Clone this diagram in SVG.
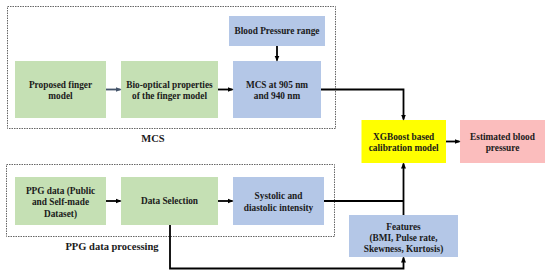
<svg xmlns="http://www.w3.org/2000/svg" width="550" height="273" viewBox="0 0 550 273">
<style>
text{font-family:"Liberation Serif","Times New Roman",serif;font-weight:bold;font-size:9.3px;fill:#1a1a1a;text-anchor:middle}
.cap{font-size:10.5px}
.green{fill:#c5e0b4}
.blue{fill:#b4c7e7}
.frame{fill:none;stroke:#666;stroke-width:1;stroke-dasharray:1.5,1}
.ln{fill:none;stroke:#000;stroke-width:1.8}
.ln2{fill:none;stroke:#44546a;stroke-width:1.8}
</style>
<defs>
<marker id="ah" markerWidth="6" markerHeight="6" refX="5" refY="3" orient="auto" markerUnits="userSpaceOnUse"><path d="M0,0.5 L6,3 L0,5.5 Z" fill="#000"/></marker>
<marker id="ahb" markerWidth="6" markerHeight="6" refX="5" refY="3" orient="auto" markerUnits="userSpaceOnUse"><path d="M0,0.5 L6,3 L0,5.5 Z" fill="#44546a"/></marker>
</defs>
<g id="mcs-frame"><rect class="frame" x="7.5" y="6.5" width="328" height="122"/><text class="cap" x="153" y="142">MCS</text></g>
<g id="ppg-frame"><rect class="frame" x="6.5" y="164.5" width="328" height="72"/><text class="cap" x="112" y="250">PPG data processing</text></g>
<g id="finger"><rect class="green" x="15" y="61" width="91" height="57"/><text x="60.5" y="87.5">Proposed finger</text><text x="60.5" y="99.3">model</text></g>
<g id="bio"><rect class="green" x="121" y="61" width="97" height="57"/><text x="169.5" y="87.5">Bio-optical properties</text><text x="169.5" y="99.3">of the finger model</text></g>
<g id="bprange"><rect class="blue" x="229" y="16" width="96" height="30"/><text x="277" y="34.3">Blood Pressure range</text></g>
<g id="mcs"><rect class="blue" x="233" y="61" width="88" height="57"/><text x="277" y="87.5">MCS at 905 nm</text><text x="277" y="99.3">and 940 nm</text></g>
<g id="ppgdata"><rect class="green" x="15" y="177" width="91" height="48"/><text x="60.5" y="194">PPG data (Public</text><text x="60.5" y="205.3">and Self-made</text><text x="60.5" y="216.6">Dataset)</text></g>
<g id="datasel"><rect class="green" x="121" y="177" width="97" height="48"/><text x="169.5" y="204">Data Selection</text></g>
<g id="systolic"><rect class="blue" x="233" y="177" width="91" height="48"/><text x="278.5" y="199">Systolic and</text><text x="278.5" y="210.8">diastolic intensity</text></g>
<g id="xgboost"><rect fill="#ffff00" x="361.5" y="120" width="84.5" height="43"/><text x="403.7" y="139.5">XGBoost based</text><text x="403.7" y="151.3">calibration model</text></g>
<g id="estimated"><rect fill="#fbbdbd" x="460" y="120" width="85" height="43"/><text x="502.5" y="139.5">Estimated blood</text><text x="502.5" y="151.3">pressure</text></g>
<g id="features"><rect class="blue" x="349" y="215" width="109" height="42"/><text x="403.5" y="230">Features</text><text x="403.5" y="241">(BMI, Pulse rate,</text><text x="403.5" y="252">Skewness, Kurtosis)</text></g>
<g id="connectors">
<line class="ln2" x1="106" y1="89.5" x2="120.5" y2="89.5" marker-end="url(#ahb)"/>
<line class="ln" x1="218" y1="89.5" x2="232.5" y2="89.5" marker-end="url(#ah)"/>
<line class="ln" x1="277" y1="46" x2="277" y2="60.5" marker-end="url(#ah)"/>
<polyline class="ln" points="321,89.5 403.5,89.5 403.5,119.5" marker-end="url(#ah)"/>
<line class="ln" x1="446" y1="141.5" x2="459.5" y2="141.5" marker-end="url(#ah)"/>
<line class="ln" x1="106" y1="201" x2="120.5" y2="201" marker-end="url(#ah)"/>
<line class="ln" x1="218" y1="201" x2="232.5" y2="201" marker-end="url(#ah)"/>
<line class="ln" x1="324" y1="201" x2="403.5" y2="201"/>
<line class="ln" x1="403.5" y1="215" x2="403.5" y2="163.5" marker-end="url(#ah)"/>
<polyline class="ln" points="170,225 170,268.5 403.5,268.5 403.5,257.5" marker-end="url(#ah)"/>
</g>
</svg>
